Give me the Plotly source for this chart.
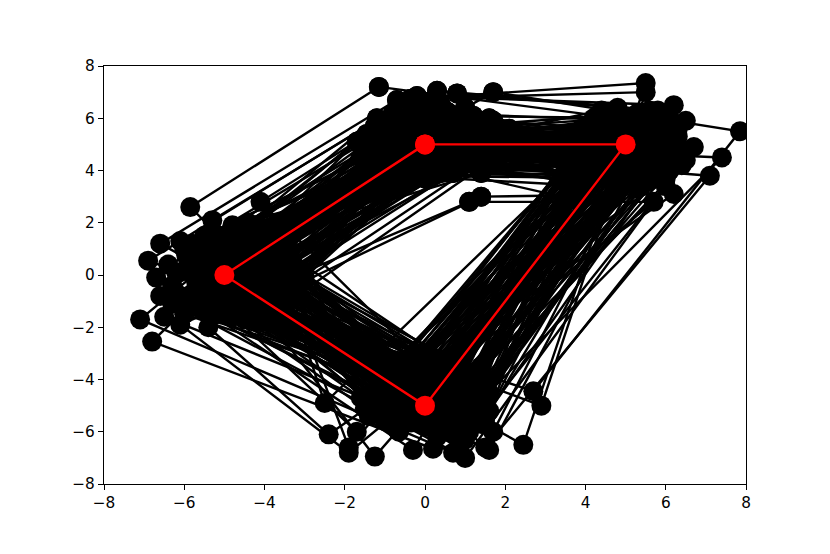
import plotly.graph_objects as go

base_x = [0, 5, 0, -5, 0]
base_y = [5, 5, -5, 0, 5]

top_x = [-1.15,-0.7,-0.35,-0.2,0.3,0.8,1.7,-1.2,-1.25,-1.7,-1.5,1.1,1.4,-0.9,-0.4,0.1,0.5,0.9,1.25,-0.6,
 -1.0,0.2,0.7,1.5,2.1,-0.2,0.4,-1.4,-0.8,0.0,0.6,1.0,1.8,-0.5,0.3,-1.1,-0.3,0.8,1.4,-0.7,
 0.1,0.5,1.1,-1.6,-0.9,0.2,0.9,1.6,-0.4,0.4,-1.2,-0.1,0.7,1.3,2.2,-0.6,0.0,0.55,-1.3,-0.75,
 0.35,1.05,1.9,-0.25,0.15,0.95,-0.85,0.45,1.2,-0.55,0.25,-1.05,0.75,1.55,-0.15,0.05,-0.45,0.65,1.35,-0.95,
 0.3,0.85,-0.35,1.15,-1.45,0.1,0.6,1.7,-0.65,0.4,-0.05,1.0,-1.15,0.2,0.7,-0.3,1.45,0.5,-0.8,0.9]
top_y = [7.2,6.7,6.75,6.85,7.05,6.95,7.0,6.0,5.7,5.1,4.85,2.8,3.0,5.3,6.1,5.6,6.3,5.9,4.2,4.4,
 4.6,4.1,3.9,4.5,5.6,5.0,5.4,4.3,5.8,4.7,4.9,6.4,5.2,3.8,4.3,5.5,6.4,5.1,3.9,5.0,
 6.2,4.6,5.7,4.5,3.9,5.2,4.4,6.0,5.5,6.5,4.1,4.8,5.3,4.7,5.0,6.0,3.7,5.6,5.2,4.4,
 4.0,5.1,5.5,4.6,5.9,4.2,4.9,5.4,6.1,3.8,4.5,5.7,4.8,4.3,5.2,6.6,5.0,3.9,5.5,4.2,
 5.8,5.3,4.0,4.6,5.4,4.9,6.2,5.9,4.7,5.1,4.3,5.6,4.8,3.9,5.0,5.7,4.4,4.7,6.2,5.2]

right_x = [4.3,5.5,5.5,6.2,5.8,4.8,7.85,6.7,6.5,7.4,7.1,5.7,6.2,6.5,6.1,5.3,4.4,3.6,3.4,3.7,
 4.0,5.1,6.0,4.6,3.9,5.6,5.9,4.2,5.2,3.8,4.9,5.4,6.3,4.1,5.0,4.5,3.5,5.7,6.0,4.7,
 5.3,4.3,6.4,3.9,5.5,4.8,5.1,6.1,4.0,4.6,5.8,3.6,4.9,5.6,4.4,6.2,3.8,5.2,4.7,5.9,
 4.2,6.0,5.4,3.7,5.0,4.5,5.7,6.3,4.1,5.3,3.9,4.8,5.5,6.1,4.3,5.1,5.8,4.6,3.6,5.6,
 4.9,6.4,4.0,5.2,5.9,4.4,3.8,5.4,6.0,4.7,5.0,5.7,4.2,6.2,3.5,5.3,4.5,5.5,4.8,6.1]
right_y = [6.1,7.35,7.0,6.5,6.3,6.4,5.5,4.9,4.4,4.5,3.8,2.8,3.1,5.9,6.0,6.2,5.3,3.7,3.6,2.9,
 4.4,3.5,5.1,6.2,5.6,4.0,4.6,4.2,5.5,4.9,6.1,3.4,5.3,3.9,5.8,4.5,4.1,5.2,3.4,5.0,
 5.9,3.8,4.8,5.2,4.3,5.6,6.0,4.0,4.7,3.7,5.5,4.4,4.1,6.3,5.9,4.5,5.3,3.6,4.9,5.7,
 6.0,3.7,5.1,4.6,4.2,5.4,4.7,5.6,5.0,3.3,3.9,4.4,5.8,5.0,4.8,3.8,6.2,5.7,4.2,3.6,
 5.2,4.2,5.6,4.9,3.9,6.3,4.7,5.5,4.4,4.0,5.3,6.1,3.8,5.1,4.5,4.6,5.0,5.9,3.5,5.4]

bottom_x = [-0.5,2.45,2.9,1.6,1.7,-0.3,2.7,1.0,0.7,0.2,1.5,-1.9,-2.4,-1.7,-1.25,-1.9,-2.5,0.4,-0.6,1.2,
 1.0,-0.9,0.6,-0.3,1.4,0.0,-1.2,0.8,1.5,-0.5,0.3,1.6,-1.0,0.9,-0.2,1.4,0.5,-0.7,1.3,0.1,
 -1.5,0.7,1.4,-0.4,0.2,1.1,-0.8,1.2,-0.1,0.6,1.5,-1.3,0.4,1.0,-0.6,1.1,0.0,0.8,-1.1,1.5,
 0.3,-0.3,1.2,-0.9,0.5,1.3,-0.2,1.4,0.9,-1.4,0.1,1.6,-0.5,0.7,1.3,-0.75,0.25,1.1,-0.1,0.55,
 -1.6,1.35,0.35,-0.45,0.95,1.5,-1.05,0.65,1.55,0.05,-0.65,1.25,0.15,-0.25,1.45,0.85,-1.2,0.45,1.2,-0.85]
bottom_y = [-5.6,-6.5,-5.0,-6.7,-6.0,-6.7,-4.45,-7.0,-6.8,-6.65,-6.6,-6.8,-6.1,-6.0,-6.95,-6.6,-4.9,-6.0,-5.8,-5.5,
 -4.2,-5.0,-3.3,-4.6,-5.7,-3.9,-4.7,-5.2,-4.9,-3.5,-6.2,-4.5,-5.6,-3.1,-4.4,-5.3,-4.0,-5.9,-3.8,-5.4,
 -5.1,-4.8,-3.7,-4.3,-5.7,-6.0,-3.4,-4.6,-5.2,-4.1,-5.5,-4.5,-3.6,-6.3,-4.9,-5.0,-4.2,-5.8,-3.8,-4.4,
 -5.3,-3.2,-5.0,-4.7,-5.9,-4.0,-4.4,-3.5,-5.6,-5.4,-4.8,-5.2,-3.9,-6.1,-3.7,-5.7,-4.3,-5.5,-3.0,-4.6,
 -4.7,-4.1,-5.8,-3.6,-5.1,-5.7,-4.2,-3.4,-5.3,-4.9,-6.0,-3.8,-5.5,-4.5,-4.3,-6.2,-5.0,-3.7,-5.4,-4.0]

left_x = [-5.85,-6.6,-6.9,-5.3,-4.1,-6.7,-6.2,-6.6,-7.1,-6.8,-6.5,-6.1,-5.4,-5.1,-5.5,-3.4,-3.7,-4.6,-4.2,-5.0,
 -4.4,-5.6,-3.5,-4.8,-5.2,-3.9,-6.0,-4.5,-5.7,-3.3,-4.9,-5.3,-4.1,-6.3,-3.6,-5.4,-4.7,-3.8,-5.9,-4.3,
 -5.1,-3.2,-6.1,-4.6,-5.5,-3.7,-4.0,-5.8,-4.9,-3.4,-5.2,-6.4,-4.4,-3.9,-5.0,-5.6,-3.5,-4.2,-6.0,-4.8,
 -5.3,-3.6,-4.5,-5.7,-3.1,-4.7,-5.5,-6.2,-4.0,-3.8,-5.1,-4.3,-5.9,-3.3,-4.6,-5.4,-4.1,-6.1,-3.7,-4.9,
 -5.2,-3.0,-5.8,-4.4,-3.6,-5.0,-6.3,-4.2,-5.6,-3.9,-4.7,-5.3,-3.4,-6.0,-4.5,-5.1,-3.8,-4.8,-5.5,-4.0]
left_y = [2.6,1.2,0.55,2.1,2.8,-0.1,0.1,-0.8,-1.7,-2.55,-1.6,-1.9,-2.0,-1.1,1.4,-0.5,0.7,1.5,-1.4,-0.6,
 0.9,-1.3,-0.2,1.9,0.4,-1.0,1.0,-1.7,0.3,0.5,-0.9,1.6,-0.3,-0.4,1.1,-1.5,0.2,-0.8,0.6,1.3,
 -1.2,0.0,-1.0,0.8,-0.4,-1.3,1.7,1.2,-0.1,-0.7,0.9,0.4,-1.6,0.6,1.4,-0.9,0.3,-0.5,-1.4,1.1,
 0.1,-0.2,1.8,-0.6,0.2,-1.1,1.5,-0.7,0.5,1.2,-1.5,0.0,0.8,-0.9,1.0,0.3,-1.8,1.3,-0.3,0.7,
 -0.8,-0.1,-1.2,2.0,0.4,0.9,-1.1,1.6,0.0,-1.3,0.6,-0.5,0.9,-1.5,1.1,-0.2,0.2,-1.6,0.5,1.4]

# Denser group of polygons lying close to the red outline
core_top_x = [-0.8,-0.4,0.0,0.4,0.8,-0.6,-0.2,0.2,0.6,1.0,-1.0,-0.5,-0.1,0.3,0.7,-0.7,-0.3,0.1,0.5,0.9,
 -0.9,-0.45,-0.05,0.35,0.75,-0.65,-0.25,0.15,0.55,0.95,-0.85,-0.35,0.05,0.45,0.85,-0.75,-0.15,0.25,0.65,1.05,
 -0.55,0.0,0.4,-0.9,-0.2,0.6,0.2,-0.6,0.8,-0.4]
core_top_y = [4.2,4.8,5.4,3.9,4.5,5.1,5.7,4.0,4.6,5.2,4.4,5.0,5.6,4.1,4.7,5.3,3.8,4.3,4.9,5.5,
 4.25,4.75,5.25,5.75,4.05,4.55,5.05,5.55,3.95,4.45,4.95,5.45,4.15,4.65,5.15,5.65,3.85,4.35,4.85,5.35,
 4.1,4.6,5.5,4.8,4.2,5.3,3.9,5.0,4.4,5.6]
core_right_x = [4.2,4.6,5.0,5.4,5.8,4.4,4.8,5.2,5.6,4.0,4.3,4.7,5.1,5.5,5.9,4.5,4.9,5.3,5.7,4.1,
 4.25,4.65,5.05,5.45,5.85,4.45,4.85,5.25,5.65,4.05,4.35,4.75,5.15,5.55,5.95,4.55,4.95,5.35,5.75,4.15,
 4.6,5.0,5.4,4.4,5.2,4.8,5.6,4.2,5.8,4.9]
core_right_y = [5.3,3.9,4.6,5.7,4.2,4.9,5.5,4.0,4.7,5.2,3.8,4.4,5.1,5.8,4.3,5.0,3.7,4.5,5.4,4.8,
 4.15,5.35,4.65,3.95,5.55,4.25,5.05,5.75,4.35,3.85,5.15,4.55,5.65,4.05,4.75,5.25,4.45,3.75,5.45,4.85,
 5.6,4.1,4.9,5.2,3.9,4.6,5.3,4.2,5.0,4.4]
core_bottom_x = [-0.6,-0.2,0.2,0.6,1.0,-0.8,-0.4,0.0,0.4,0.8,-1.0,-0.5,-0.1,0.3,0.7,-0.7,-0.3,0.1,0.5,0.9,
 -0.55,-0.15,0.25,0.65,1.05,-0.75,-0.35,0.05,0.45,0.85,-0.95,-0.45,-0.05,0.35,0.75,-0.65,-0.25,0.15,0.55,0.95,
 -0.4,0.2,0.7,-0.8,0.0,0.5,-0.2,1.1,-0.6,0.3]
core_bottom_y = [-4.2,-5.4,-3.9,-4.8,-5.6,-4.5,-3.7,-5.1,-4.3,-5.7,-4.9,-3.6,-5.3,-4.1,-4.7,-5.5,-3.8,-4.4,-5.0,-3.5,
 -4.85,-5.45,-4.05,-3.75,-5.15,-4.35,-5.65,-3.95,-4.65,-5.25,-4.15,-4.95,-3.65,-5.35,-4.55,-3.85,-5.05,-4.25,-5.55,-4.75,
 -3.4,-4.6,-5.2,-3.9,-5.8,-4.4,-3.3,-5.0,-4.7,-3.6]
core_left_x = [-4.2,-4.6,-5.0,-5.4,-5.8,-4.4,-4.8,-5.2,-5.6,-4.0,-4.3,-4.7,-5.1,-5.5,-5.9,-4.5,-4.9,-5.3,-5.7,-4.1,
 -4.25,-4.65,-5.05,-5.45,-5.85,-4.45,-4.85,-5.25,-5.65,-4.05,-4.35,-4.75,-5.15,-5.55,-5.95,-4.55,-4.95,-5.35,-5.75,-4.15,
 -3.8,-4.2,-4.6,-5.2,-3.6,-5.0,-4.4,-5.6,-3.9,-4.8]
core_left_y = [0.9,-0.4,0.2,-1.0,0.6,-0.2,1.1,-0.7,0.4,-1.2,0.0,0.8,-0.5,1.3,-0.9,0.3,-1.1,0.7,-0.3,1.0,
 -0.6,0.5,-0.8,1.2,0.1,-1.3,0.9,-0.1,0.65,-0.45,1.15,-0.85,0.35,-0.15,0.75,-1.05,0.05,1.25,-0.65,0.45,
 0.2,-0.6,1.0,-0.2,0.5,-0.9,0.8,-0.4,0.0,0.6]

BLACK = "#000000"
RED = "#ff0000"

all_top_x = top_x + core_top_x
all_top_y = top_y + core_top_y
all_right_x = right_x + core_right_x
all_right_y = right_y + core_right_y
all_bottom_x = bottom_x + core_bottom_x
all_bottom_y = bottom_y + core_bottom_y
all_left_x = left_x + core_left_x
all_left_y = left_y + core_left_y

fig = go.Figure()
for i in range(len(all_top_x)):
    fig.add_trace(go.Scatter(
        x=[all_top_x[i], all_right_x[i], all_bottom_x[i], all_left_x[i], all_top_x[i]],
        y=[all_top_y[i], all_right_y[i], all_bottom_y[i], all_left_y[i], all_top_y[i]],
        mode="lines+markers", showlegend=False, hoverinfo="skip",
        line=dict(color=BLACK, width=2.4),
        marker=dict(color=BLACK, size=20, line=dict(width=0)),
    ))
fig.add_trace(go.Scatter(
    x=base_x, y=base_y, mode="lines+markers", showlegend=False, hoverinfo="skip",
    line=dict(color=RED, width=2.4),
    marker=dict(color=RED, size=20, line=dict(width=0)),
))

axis = dict(range=[-8, 8], tickmode="array", tickvals=list(range(-8, 10, 2)),
            showgrid=False, zeroline=False, showline=True, mirror=True,
            linecolor="black", linewidth=1.2, ticks="outside", ticklen=5,
            tickwidth=1.2, tickcolor="black",
            tickfont=dict(family="DejaVu Sans", size=15.3, color="black"))
fig.update_layout(
    width=830, height=554, autosize=False,
    margin=dict(l=96, r=92, t=58, b=78),
    paper_bgcolor="white", plot_bgcolor="white",
    xaxis=axis, yaxis=axis, showlegend=False,
)
fig.write_html("out.html")
